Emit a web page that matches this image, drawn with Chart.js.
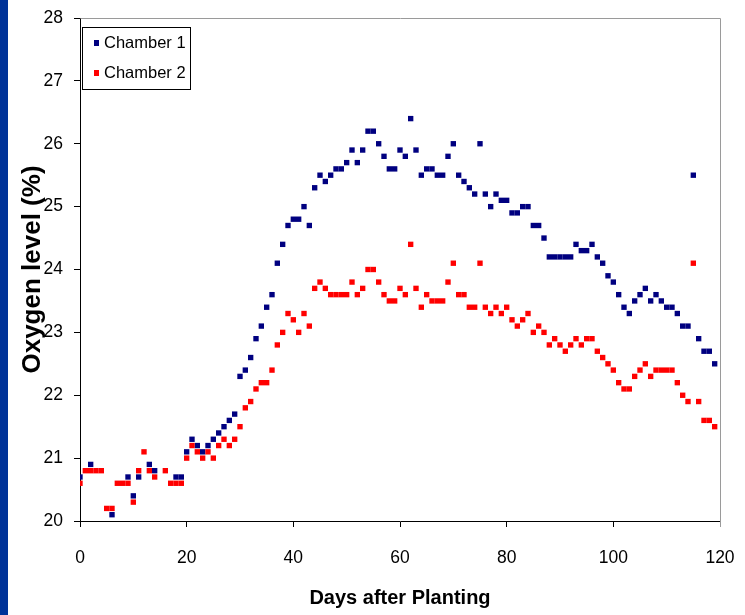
<!DOCTYPE html>
<html>
<head>
<meta charset="utf-8">
<script src="https://cdn.jsdelivr.net/npm/chart.js@4.4.4/dist/chart.umd.min.js"></script>
<style>
  html, body { margin: 0; padding: 0; background: #fff; }
  #strip { position: absolute; left: 0; top: 0; width: 8px; height: 615px; background: #003399; }
  #wrap { position: absolute; left: 0; top: 0; width: 745px; height: 615px; }
</style>
</head>
<body>
<div id="strip"></div>
<div id="wrap"><canvas id="chart" width="745" height="615"></canvas></div>
<script>
// Days after planting (x values)
const days = [
  0, 1, 2, 3, 4, 5, 6, 7, 8, 9, 10, 11, 12, 13, 14, 15, 16, 17, 18, 19,
  20, 21, 22, 23, 24, 25, 26, 27, 28, 29, 30, 31, 32, 33, 34, 35, 36, 37, 38, 39,
  40, 41, 42, 43, 44, 45, 46, 47, 48, 49, 50, 51, 52, 53, 54, 55, 56, 57, 58, 59,
  60, 61, 62, 63, 64, 65, 66, 67, 68, 69, 70, 71, 72, 73, 74, 75, 76, 77, 78, 79,
  80, 81, 82, 83, 84, 85, 86, 87, 88, 89, 90, 91, 92, 93, 94, 95, 96, 97, 98, 99,
  100, 101, 102, 103, 104, 105, 106, 107, 108, 109, 110, 111, 112, 113, 114, 115, 116, 117, 118, 119
];

// Oxygen level (%), null where no reading is visible
const chamber1 = [
  20.7, null, 20.9, null, null, null, 20.1, null, null, 20.7, 20.4, 20.7, null, 20.9, 20.8, null, null, null, 20.7, 20.7,
  21.1, 21.3, 21.2, 21.1, 21.2, 21.3, 21.4, 21.5, 21.6, 21.7, 22.3, 22.4, 22.6, 22.9, 23.1, 23.4, 23.6, 24.1, 24.4, 24.7,
  24.8, 24.8, 25.0, 24.7, 25.3, 25.5, 25.4, 25.5, 25.6, 25.6, 25.7, 25.9, 25.7, 25.9, 26.2, 26.2, 26.0, 25.8, 25.6, 25.6,
  25.9, 25.8, 26.4, 25.9, 25.5, 25.6, 25.6, 25.5, 25.5, 25.8, 26.0, 25.5, 25.4, 25.3, 25.2, 26.0, 25.2, 25.0, 25.2, 25.1,
  25.1, 24.9, 24.9, 25.0, 25.0, 24.7, 24.7, 24.5, 24.2, 24.2, 24.2, 24.2, 24.2, 24.4, 24.3, 24.3, 24.4, 24.2, 24.1, 23.9,
  23.8, 23.6, 23.4, 23.3, 23.5, 23.6, 23.7, 23.5, 23.6, 23.5, 23.4, 23.4, 23.3, 23.1, 23.1, 25.5, 22.9, 22.7, 22.7, 22.5
];

const chamber2 = [
  20.6, 20.8, 20.8, 20.8, 20.8, 20.2, 20.2, 20.6, 20.6, 20.6, 20.3, 20.8, 21.1, 20.8, 20.7, null, 20.8, 20.6, 20.6, 20.6,
  21.0, 21.2, 21.1, 21.0, 21.1, 21.0, 21.2, 21.3, 21.2, 21.3, 21.5, 21.8, 21.9, 22.1, 22.2, 22.2, 22.4, 22.8, 23.0, 23.3,
  23.2, 23.0, 23.3, 23.1, 23.7, 23.8, 23.7, 23.6, 23.6, 23.6, 23.6, 23.8, 23.6, 23.7, 24.0, 24.0, 23.8, 23.6, 23.5, 23.5,
  23.7, 23.6, 24.4, 23.7, 23.4, 23.6, 23.5, 23.5, 23.5, 23.8, 24.1, 23.6, 23.6, 23.4, 23.4, 24.1, 23.4, 23.3, 23.4, 23.3,
  23.4, 23.2, 23.1, 23.2, 23.3, 23.0, 23.1, 23.0, 22.8, 22.9, 22.8, 22.7, 22.8, 22.9, 22.8, 22.9, 22.9, 22.7, 22.6, 22.5,
  22.4, 22.2, 22.1, 22.1, 22.3, 22.4, 22.5, 22.3, 22.4, 22.4, 22.4, 22.4, 22.2, 22.0, 21.9, 24.1, 21.9, 21.6, 21.6, 21.5
];

const seriesNames = ['Chamber 1', 'Chamber 2'];
const seriesColors = ['#000080', '#ff0000'];

const FONT = '"Liberation Sans", Arial, sans-serif';

function toPoints(values) {
  return days.map((d, i) => ({ x: d, y: values[i] })).filter(p => p.y !== null);
}

// gray frame on top and right of the plot area
const plotFrame = {
  id: 'plotFrame',
  beforeDatasetsDraw(chart) {
    const { ctx, chartArea: a } = chart;
    ctx.save();
    ctx.strokeStyle = '#9a9a9a';
    ctx.lineWidth = 1;
    ctx.beginPath();
    ctx.moveTo(Math.round(a.left) + 0.5, Math.round(a.top) + 0.5);
    ctx.lineTo(Math.round(a.right) + 0.5, Math.round(a.top) + 0.5);
    ctx.lineTo(Math.round(a.right) + 0.5, Math.round(a.bottom) + 6);
    ctx.stroke();
    ctx.restore();
  }
};

// boxed legend in the top-left corner of the plot
const boxLegend = {
  id: 'boxLegend',
  afterDraw(chart) {
    const { ctx, chartArea: a } = chart;
    const x0 = a.left + 2, y0 = a.top + 9;
    ctx.save();
    ctx.fillStyle = '#fff';
    ctx.fillRect(x0, y0, 108, 62);
    ctx.strokeStyle = '#000';
    ctx.lineWidth = 1;
    ctx.strokeRect(x0 + 0.5, y0 + 0.5, 108, 62);
    ctx.font = '16.5px ' + FONT;
    ctx.textBaseline = 'middle';
    chart.data.datasets.forEach((ds, i) => {
      const cy = y0 + 16 + i * 30;
      ctx.fillStyle = ds.backgroundColor;
      ctx.fillRect(x0 + 12, cy - 3, 5, 6);
      ctx.fillStyle = '#000';
      ctx.fillText(ds.label, x0 + 22, cy);
    });
    ctx.restore();
  }
};

const chart = new Chart(document.getElementById('chart'), {
  type: 'scatter',
  data: {
    datasets: [
      {
        label: seriesNames[0],
        data: toPoints(chamber1),
        backgroundColor: seriesColors[0],
        borderColor: seriesColors[0],
        pointStyle: 'rect',
        pointRadius: 3.8,
        borderWidth: 0,
        order: 1
      },
      {
        label: seriesNames[1],
        data: toPoints(chamber2),
        backgroundColor: seriesColors[1],
        borderColor: seriesColors[1],
        pointStyle: 'rect',
        pointRadius: 3.8,
        borderWidth: 0,
        order: 0
      }
    ]
  },
  options: {
    responsive: false,
    animation: false,
    events: [],
    layout: { padding: { top: 18, right: 25, left: 0, bottom: 0 } },
    plugins: {
      legend: { display: false },
      tooltip: { enabled: false }
    },
    scales: {
      x: {
        type: 'linear',
        min: 0,
        max: 120,
        ticks: { stepSize: 20, color: '#000', padding: 21, font: { family: FONT, size: 17.5 } },
        grid: { drawOnChartArea: false, tickLength: 6, color: '#000' },
        border: { color: '#000', width: 1 },
        title: {
          display: true,
          text: 'Days after Planting',
          color: '#000',
          font: { family: FONT, size: 20, weight: 'bold' },
          padding: { top: 0, bottom: 5 }
        },
        afterFit(scale) {
          scale.height = 94;
          scale.paddingLeft = 0;
          scale.paddingRight = 0;
        }
      },
      y: {
        min: 20,
        max: 28,
        ticks: { stepSize: 1, color: '#000', padding: 11, font: { family: FONT, size: 17.5 } },
        grid: { drawOnChartArea: false, tickLength: 6, color: '#000' },
        border: { color: '#000', width: 1 },
        title: {
          display: true,
          text: 'Oxygen level (%)',
          color: '#000',
          font: { family: FONT, size: 26, weight: 'bold' },
          padding: { top: 17, bottom: 0 }
        },
        afterFit(scale) {
          scale.width = 80;
          scale.paddingTop = 0;
          scale.paddingBottom = 0;
        }
      }
    }
  },
  plugins: [plotFrame, boxLegend]
});
</script>
</body>
</html>
